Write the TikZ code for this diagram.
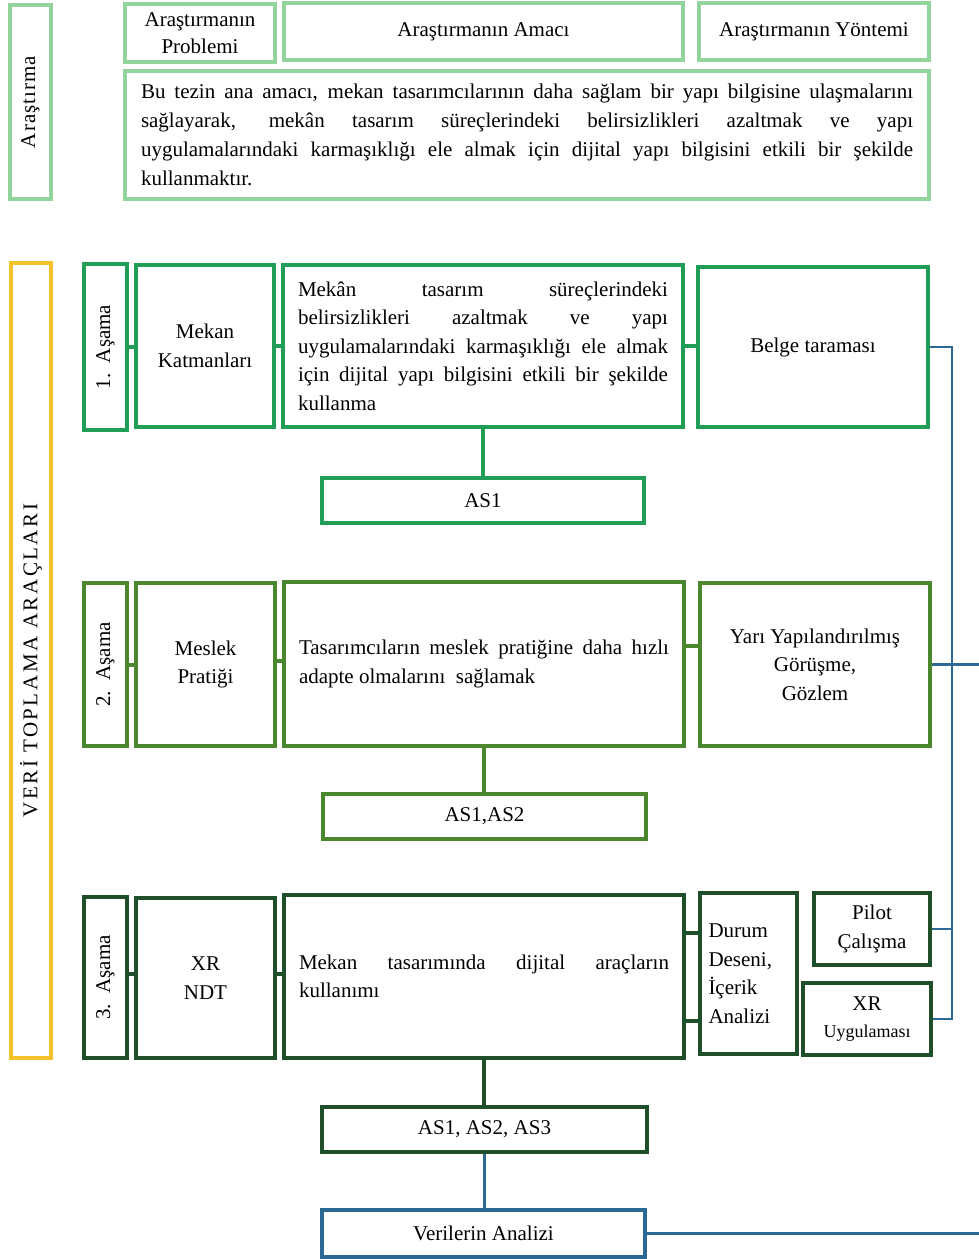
\documentclass[tikz,border=0pt]{standalone}
\usepackage{fontspec}
\usepackage{graphicx}
\setmainfont{Liberation Serif}
\newfontfamily\spacedfont[LetterSpace=12]{Liberation Serif}
\newfontfamily\lightspaced[LetterSpace=5]{Liberation Serif}
\usetikzlibrary{calc}
\definecolor{ctop}{RGB}{146,212,156}
\definecolor{cone}{RGB}{32,158,88}
\definecolor{ctwo}{RGB}{76,135,48}
\definecolor{cthree}{RGB}{30,78,42}
\definecolor{cblue}{RGB}{44,104,148}
\definecolor{cyel}{RGB}{242,194,40}
\newcommand\bx[7]{\node[#6, minimum width={(#4-#2)*0.5pt}, minimum height={(#5-#3)*0.5pt}] (#1) at ({(#2+#4)/2},{(#3+#5)/2}) {#7};}
\tikzset{
  box/.style={draw, line width=2pt, inner sep=0pt, align=center, fill=white,
    font=\fontsize{10.5}{14.25}\selectfont},
  topbox/.style={box, draw=ctop},
  onebox/.style={box, draw=cone},
  twobox/.style={box, draw=ctwo},
  threebox/.style={box, draw=cthree},
  bluebox/.style={box, draw=cblue},
  yelbox/.style={box, draw=cyel},
  midtext/.style={text width=185pt, align=justify},
  conone/.style={draw=cone, line width=2pt},
  contwo/.style={draw=ctwo, line width=2pt},
  conthree/.style={draw=cthree, line width=2pt},
  conblue/.style={draw=cblue, line width=1.2pt},
}
\begin{document}
\begin{tikzpicture}[x=0.5pt, y=-0.5pt]
\useasboundingbox (0,0) rectangle (979,1259);
% ---- top section
\bx{ar}{10}{5}{51}{199}{topbox}{\rotatebox{90}{\lightspaced Araştırma}}
\bx{prob}{125}{4}{275}{62}{topbox}{Araştırmanın\\[-1pt]Problemi}
\bx{amac}{284}{3}{683}{60}{topbox}{Araştırmanın Amacı}
\bx{yont}{699}{3}{929}{60}{topbox}{Araştırmanın Yöntemi}
\bx{para}{125}{71}{929}{199}{topbox, text width=386pt, align=justify,
  font=\fontsize{10.5}{14.5}\selectfont}{Bu tezin ana amacı, mekan tasarımcılarının daha sağlam bir yapı bilgisine ulaşmalarını\linebreak sağlayarak, mekân tasarım süreçlerindeki belirsizlikleri azaltmak ve yapı\linebreak uygulamalarındaki karmaşıklığı ele almak için dijital yapı bilgisini etkili bir şekilde\linebreak kullanmaktır.}
% ---- yellow column
\bx{veri}{11}{263}{51}{1058}{yelbox}{\rotatebox{90}{\spacedfont VERİ TOPLAMA ARAÇLARI}}
% ---- section 1
\bx{a1}{84}{264}{127}{430}{onebox}{\rotatebox{90}{1.\ \ Aşama}}
\bx{k1}{136}{265}{274}{427}{onebox}{Mekan\\Katmanları}
\bx{m1}{283}{265}{683}{427}{onebox, midtext}{Mekân tasarım süreçlerindeki\linebreak belirsizlikleri azaltmak ve yapı\linebreak uygulamalarındaki karmaşıklığı ele almak\linebreak için dijital yapı bilgisini etkili bir şekilde\linebreak kullanma}
\bx{b1}{698}{267}{928}{427}{onebox}{Belge taraması}
\bx{as1}{322}{478}{644}{523}{onebox}{AS1}
% ---- section 2
\bx{a2}{84}{583}{127}{746}{twobox}{\rotatebox{90}{2.\ \ Aşama}}
\bx{k2}{136}{583}{275}{746}{twobox}{Meslek\\Pratiği}
\bx{m2}{284}{582}{684}{746}{twobox, midtext}{Tasarımcıların meslek pratiğine daha hızlı\linebreak adapte olmalarını\ \ sağlamak}
\bx{y2}{700}{583}{930}{746}{twobox}{Yarı Yapılandırılmış\\Görüşme,\\Gözlem}
\bx{as2}{323}{794}{646}{839}{twobox}{AS1,AS2}
% ---- section 3
\bx{a3}{84}{897}{127}{1058}{threebox}{\rotatebox{90}{3.\ \ Aşama}}
\bx{k3}{136}{898}{275}{1058}{threebox}{XR\\NDT}
\bx{m3}{284}{895}{684}{1058}{threebox, midtext}{Mekan tasarımında dijital araçların\linebreak kullanımı}
\bx{du}{700}{893}{797}{1054}{threebox, text width=40pt, align=left}{Durum\\Deseni,\\İçerik\\Analizi}
\bx{pl}{814}{893}{930}{965}{threebox}{Pilot\\Çalışma}
\bx{xu}{803}{983}{931}{1055}{threebox}{XR\\[-1pt]{\fontsize{9}{11}\selectfont Uygulaması}}
\bx{as3}{322}{1107}{647}{1152}{threebox}{AS1, AS2, AS3}
\bx{va}{322}{1210}{645}{1257}{bluebox}{Verilerin Analizi}
% ---- connectors section 1
\draw[conone] (a1.east) -- (a1.east -| k1.west);
\draw[conone] (k1.east) -- (k1.east -| m1.west);
\draw[conone] (m1.east) -- (m1.east -| b1.west);
\draw[conone] (m1.south) -- (m1.south |- as1.north);
% ---- connectors section 2
\draw[contwo] (a2.east) -- (a2.east -| k2.west);
\draw[contwo] ([yshift=2pt]k2.east) -- ([yshift=2pt]k2.east -| m2.west);
\draw[contwo] ([yshift=9pt]m2.east) -- ([yshift=9pt]m2.east -| y2.west);
\draw[contwo] (m2.south) -- (m2.south |- as2.north);
% ---- connectors section 3
\draw[conthree] ([yshift=2pt]a3.east) -- ([yshift=2pt]a3.east -| k3.west);
\draw[conthree] ([yshift=2pt]k3.east) -- ([yshift=2pt]k3.east -| m3.west);
\draw[conthree] ([yshift=22pt]m3.east) -- ([yshift=22pt]m3.east -| du.west);
\draw[conthree] ([yshift=-22pt]m3.east) -- ([yshift=-22pt]m3.east -| du.west);
\draw[conthree] (m3.south) -- (m3.south |- as3.north);
% ---- blue connectors
\coordinate (bv) at (952,346);
\coordinate (re1) at (979,665);
\coordinate (re2) at (979,1233);
\draw[conblue] (b1.east) -- (b1.east -| bv) -- (bv |- xu.east) -- (xu.east);
\draw[conblue] (pl.east) -- (pl.east -| bv);
\draw[conblue] (y2.east) -- (y2.east -| re1);
\draw[conblue] (as3.south) -- (as3.south |- va.north);
\draw[conblue] (va.east) -- (va.east -| re2);
\end{tikzpicture}
\end{document}
